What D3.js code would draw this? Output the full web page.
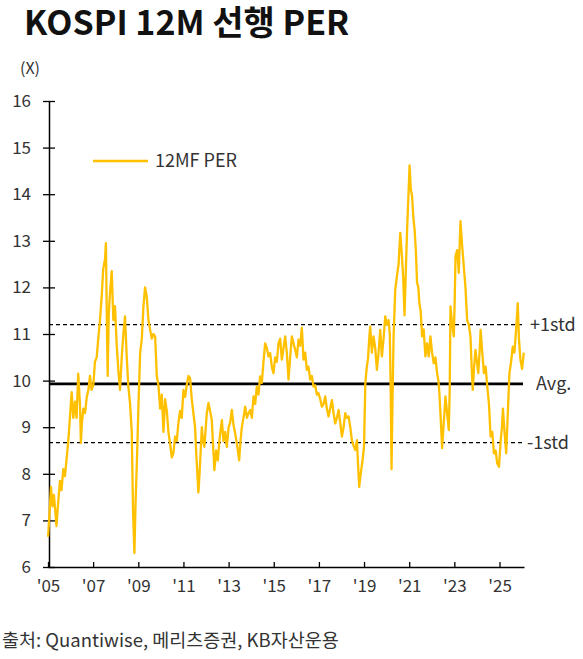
<!DOCTYPE html>
<html>
<head>
<meta charset="utf-8">
<script src="https://cdn.jsdelivr.net/npm/d3@7"></script>
<style>
  body { margin: 0; background: #fff; }
  text { font-family: "Noto Sans CJK KR", "Noto Sans", sans-serif; }
</style>
</head>
<body>
<div id="chart"></div>
<script>
// weekly-ish readings of KOSPI 12M forward PER
const dates = [
  "2005-01-03","2005-01-27","2005-02-18","2005-03-14","2005-04-07","2005-05-18","2005-06-10","2005-07-13","2005-08-07","2005-09-06",
  "2005-10-02","2005-10-31","2005-11-25","2005-12-24","2006-01-19","2006-02-14","2006-03-14","2006-04-08","2006-05-05","2006-06-02",
  "2006-06-17","2006-07-04","2006-07-26","2006-08-23","2006-09-20","2006-10-16","2006-11-11","2006-12-06","2007-01-04","2007-01-30",
  "2007-02-28","2007-03-25","2007-04-22","2007-05-19","2007-06-14","2007-07-12","2007-07-27","2007-08-14","2007-08-25","2007-09-10",
  "2007-10-02","2007-10-29","2007-11-24","2007-12-21","2008-01-18","2008-02-14","2008-03-11","2008-04-08","2008-05-04","2008-05-31",
  "2008-06-28","2008-07-24","2008-08-21","2008-09-17","2008-10-08","2008-10-30","2008-11-18","2008-12-08","2009-01-04","2009-01-31",
  "2009-02-27","2009-03-25","2009-04-21","2009-05-18","2009-06-14","2009-07-10","2009-08-07","2009-09-03","2009-09-30","2009-10-27",
  "2009-11-23","2009-12-20","2010-01-16","2010-02-12","2010-03-11","2010-04-07","2010-05-03","2010-05-30","2010-06-27","2010-07-23",
  "2010-08-19","2010-09-15","2010-10-12","2010-11-08","2010-12-05","2011-01-01","2011-01-28","2011-02-24","2011-03-23","2011-04-19",
  "2011-05-16","2011-06-11","2011-07-08","2011-07-29","2011-08-31","2011-09-19","2011-10-26","2011-11-15","2011-12-06","2012-01-14",
  "2012-02-10","2012-03-08","2012-04-04","2012-04-25","2012-05-16","2012-06-13","2012-07-10","2012-08-12","2012-09-14","2012-10-10",
  "2012-11-06","2012-12-03","2013-01-01","2013-01-26","2013-02-22","2013-03-21","2013-04-17","2013-05-20","2013-06-21","2013-07-12",
  "2013-08-03","2013-08-29","2013-09-26","2013-10-24","2013-11-19","2013-12-16","2014-01-12","2014-02-08","2014-03-07","2014-04-02",
  "2014-04-29","2014-05-26","2014-06-22","2014-07-19","2014-08-15","2014-09-11","2014-10-08","2014-11-04","2014-12-01","2014-12-28",
  "2015-01-24","2015-02-20","2015-03-19","2015-04-15","2015-05-12","2015-06-08","2015-07-05","2015-08-01","2015-08-28","2015-09-24",
  "2015-10-21","2015-11-17","2015-12-14","2016-01-10","2016-02-06","2016-03-04","2016-03-31","2016-04-27","2016-05-24","2016-06-20",
  "2016-07-17","2016-08-13","2016-09-09","2016-10-06","2016-11-02","2016-11-29","2016-12-26","2017-01-22","2017-02-18","2017-03-17",
  "2017-04-13","2017-05-10","2017-06-06","2017-07-03","2017-07-30","2017-08-26","2017-09-22","2017-10-19","2017-11-15","2017-12-12",
  "2018-01-08","2018-02-04","2018-03-03","2018-03-30","2018-04-26","2018-05-23","2018-06-19","2018-07-16","2018-08-12","2018-09-08",
  "2018-09-26","2018-10-15","2018-11-08","2018-12-08","2019-01-01","2019-01-22","2019-02-15","2019-03-05","2019-03-26","2019-04-11",
  "2019-05-08","2019-06-04","2019-07-01","2019-07-28","2019-08-24","2019-09-20","2019-10-17","2019-11-13","2019-12-10","2020-01-06",
  "2020-02-02","2020-02-22","2020-03-07","2020-03-21","2020-04-06","2020-04-23","2020-05-20","2020-06-16","2020-07-13","2020-08-09",
  "2020-09-05","2020-09-26","2020-10-17","2020-11-06","2020-11-26","2020-12-17","2021-01-07","2021-01-27","2021-02-16","2021-03-09",
  "2021-03-29","2021-04-18","2021-05-08","2021-05-29","2021-06-14","2021-07-05","2021-07-28","2021-08-23","2021-09-20","2021-10-17",
  "2021-11-13","2021-12-10","2022-01-06","2022-02-02","2022-03-01","2022-03-28","2022-04-18","2022-05-04","2022-05-25","2022-06-17",
  "2022-07-14","2022-08-10","2022-09-06","2022-10-03","2022-10-18","2022-10-31","2022-11-27","2022-12-24","2023-01-08","2023-01-20",
  "2023-02-16","2023-03-14","2023-04-10","2023-05-07","2023-06-03","2023-06-30","2023-07-27","2023-08-23","2023-09-19","2023-10-08",
  "2023-10-26","2023-11-17","2023-12-09","2024-01-01","2024-01-23","2024-02-13","2024-03-01","2024-03-28","2024-04-24","2024-05-21",
  "2024-06-17","2024-07-14","2024-08-10","2024-09-06","2024-10-03","2024-10-30","2024-11-26","2024-12-23","2025-01-19","2025-02-09",
  "2025-02-25","2025-03-23","2025-04-19","2025-05-15","2025-06-10","2025-07-07","2025-08-03","2025-08-29","2025-09-15","2025-10-06",
  "2025-10-23","2025-11-11","2025-12-05","2026-01-01","2026-01-29"
];

const per = [
  6.65, 7.2, 7.72, 7.3, 7.55, 6.88, 7.3, 7.85, 7.65, 8.1,
  7.95, 8.35, 8.7, 9.25, 9.75, 9.2, 9.55, 9.2, 10.15, 9.5,
  8.66, 9.1, 9.4, 9.3, 9.65, 9.8, 10.1, 9.8, 9.9, 10.4,
  10.5, 10.9, 11.3, 11.8, 12.4, 12.6, 12.95, 11.0, 10.1, 11.4,
  11.9, 12.35, 11.3, 11.6, 10.75, 10.2, 9.8, 10.5, 11.0, 11.38,
  10.5, 9.87, 9.5, 8.9, 7.2, 6.3, 7.4, 8.2, 9.5, 10.6,
  10.9, 11.6, 12.0, 11.8, 11.3, 11.1, 10.9, 11.0, 10.95, 10.1,
  9.9, 9.4, 9.7, 8.9, 9.6, 9.35, 8.9, 8.65, 8.35, 8.45,
  8.8, 8.7, 9.1, 9.35, 9.2, 9.8, 9.65, 9.9, 10.1, 10.05,
  9.6, 9.3, 9.0, 8.4, 7.6, 8.0, 9.0, 8.7, 8.58, 9.3,
  9.52, 9.35, 9.15, 8.6, 8.08, 8.5, 8.29, 8.8, 9.15, 8.7,
  8.9, 8.58, 9.0, 9.1, 9.37, 9.05, 8.87, 8.6, 8.29, 8.7,
  9.0, 9.2, 9.44, 9.2, 9.3, 9.37, 9.2, 9.66, 9.5, 9.87,
  9.7, 10.09, 9.95, 10.4, 10.8, 10.7, 10.52, 10.59, 10.3, 10.16,
  10.5, 10.4, 10.8, 10.9, 10.45, 10.7, 10.95, 10.6, 10.02, 10.5,
  10.95, 10.8, 10.66, 10.5, 10.88, 10.75, 11.13, 10.45, 10.6, 10.23,
  10.3, 10.02, 10.1, 9.87, 9.9, 9.7, 9.73, 9.6, 9.44, 9.5,
  9.66, 9.4, 9.23, 9.4, 9.58, 9.3, 9.08, 9.2, 9.37, 9.1,
  8.8, 9.0, 9.3, 9.2, 9.23, 9.0, 8.72, 8.6, 8.51, 8.72,
  8.2, 7.72, 8.0, 8.29, 8.6, 9.94, 10.3, 10.45, 10.9, 11.16,
  10.6, 10.95, 10.7, 10.23, 10.6, 11.09, 10.52, 10.9, 11.38, 11.2,
  11.3, 11.0, 9.8, 8.1, 9.6, 10.95, 11.95, 12.24, 12.5, 13.17,
  12.67, 12.2, 11.4, 12.3, 13.17, 13.9, 14.62, 14.1, 13.96, 13.5,
  13.24, 12.8, 12.1, 12.0, 11.66, 11.5, 10.95, 11.1, 10.52, 10.8,
  10.52, 10.95, 10.6, 10.37, 10.5, 10.16, 10.0, 9.73, 9.2, 8.55,
  9.1, 9.66, 9.3, 8.94, 9.8, 11.59, 11.2, 10.95, 11.8, 12.67,
  12.8, 12.31, 13.42, 12.9, 12.45, 12.0, 11.3, 11.2, 10.95, 10.3,
  9.8, 10.3, 10.66, 10.4, 10.16, 10.6, 11.09, 10.6, 10.16, 10.3,
  9.87, 9.5, 8.8, 8.9, 8.44, 8.5, 8.22, 8.15, 8.7, 9.0,
  9.4, 8.9, 8.44, 9.3, 10.16, 10.4, 10.73, 10.6, 10.88, 11.3,
  11.66, 10.9, 10.45, 10.25, 10.6
];

const yTicks = [6, 7, 8, 9, 10, 11, 12, 13, 14, 15, 16];
const xTickYears = [2005, 2007, 2009, 2011, 2013, 2015, 2017, 2019, 2021, 2023, 2025];
const bands = [
  {label: "+1std", value: 11.2},
  {label: "Avg.", value: 9.93},
  {label: "-1std", value: 8.67}
];

const W = 583, H = 659;
const parse = d3.timeParse("%Y-%m-%d");
const data = dates.map((d, i) => ({date: parse(d), v: per[i]}));

const svg = d3.select("#chart").append("svg")
    .attr("width", W)
    .attr("height", H);

const x = d3.scaleTime()
    .domain([new Date(2005, 0, 1), new Date(2026, 1, 1)])
    .range([48, 524]);

const y = d3.scaleLinear()
    .domain([6, 16])
    .range([567, 101]);

// title
svg.append("text")
    .attr("x", 24).attr("y", 35)
    .attr("font-size", 34)
    .attr("font-weight", "bold")
    .attr("fill", "#111")
    .text("KOSPI 12M 선행 PER");

svg.append("text")
    .attr("x", 20).attr("y", 74)
    .attr("font-size", 16)
    .attr("fill", "#333")
    .text("(X)");

// y axis
const yAxis = svg.append("g")
    .attr("transform", "translate(49,0)")
    .call(d3.axisLeft(y).tickValues(yTicks).tickSize(6).tickPadding(12).tickSizeOuter(0));
yAxis.selectAll(".tick line").attr("x1", 6).attr("x2", -6);
yAxis.select(".domain").attr("stroke", "#000").attr("stroke-width", 1.5);
yAxis.selectAll(".tick line").attr("stroke", "#000").attr("stroke-width", 1.3);
yAxis.selectAll(".tick text")
    .attr("font-size", 17)
    .attr("fill", "#333")
    .attr("font-family", "'Noto Sans CJK KR', sans-serif");

// x axis
const xAxis = svg.append("g")
    .attr("transform", "translate(0,567)")
    .call(d3.axisBottom(x)
        .tickValues(xTickYears.map(yr => new Date(yr, 0, 1)))
        .tickFormat(d3.timeFormat("'%y"))
        .tickSize(-5).tickPadding(13).tickSizeOuter(0));
xAxis.select(".domain").attr("stroke", "#000").attr("stroke-width", 1.5);
xAxis.selectAll(".tick line").attr("stroke", "#000").attr("stroke-width", 1.3);
xAxis.selectAll(".tick text")
    .attr("font-size", 17)
    .attr("fill", "#333")
    .attr("font-family", "'Noto Sans CJK KR', sans-serif");

// mean / std lines
svg.selectAll(".band")
    .data(bands)
    .enter().append("line")
    .attr("class", "band")
    .attr("x1", 49).attr("x2", 523)
    .attr("y1", d => y(d.value)).attr("y2", d => y(d.value))
    .attr("stroke", "#000")
    .attr("stroke-width", d => d.label === "Avg." ? 2.6 : 1.3)
    .attr("stroke-dasharray", d => d.label === "Avg." ? null : "4,3");

svg.selectAll(".bandLabel")
    .data(bands)
    .enter().append("text")
    .attr("class", "bandLabel")
    .attr("x", d => d.label === "Avg." ? 536 : (d.label === "+1std" ? 530 : 527))
    .attr("y", d => y(d.value))
    .attr("dy", "0.35em")
    .attr("font-size", 18)
    .attr("fill", "#333")
    .text(d => d.label);

// PER line
const line = d3.line()
    .x(d => x(d.date))
    .y(d => y(d.v));

svg.append("path")
    .datum(data)
    .attr("fill", "none")
    .attr("stroke", "#FFC000")
    .attr("stroke-width", 2.3)
    .attr("stroke-linejoin", "round")
    .attr("d", line);

// legend
svg.append("line")
    .attr("x1", 93).attr("x2", 148)
    .attr("y1", 161).attr("y2", 161)
    .attr("stroke", "#FFC000")
    .attr("stroke-width", 2.3);

svg.append("text")
    .attr("x", 155).attr("y", 161)
    .attr("dy", "0.35em")
    .attr("font-size", 18)
    .attr("fill", "#333")
    .text("12MF PER");

// source
svg.append("text")
    .attr("x", 2).attr("y", 647)
    .attr("font-size", 18.5)
    .attr("fill", "#333")
    .text("출처: Quantiwise, 메리츠증권, KB자산운용");
</script>
</body>
</html>
